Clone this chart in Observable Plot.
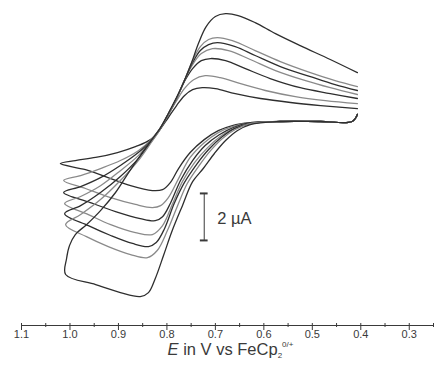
<!DOCTYPE html>
<html>
<head>
<meta charset="utf-8">
<script src="https://cdn.jsdelivr.net/npm/d3@7"></script>
<script src="https://cdn.jsdelivr.net/npm/@observablehq/plot@0.6"></script>
<style>
  body { margin: 0; background: #fff; font-family: "Liberation Sans", Arial, sans-serif; }
  #wrap { position: relative; width: 437px; height: 382px; }
  #xlabel {
    position: absolute; left: 0; top: 341px; width: 437px; box-sizing: border-box;
    padding-left: 24px; text-align: center; font-size: 16.5px; line-height: 17px; color: #3a3a3a;
  }
  #xlabel sub, #xlabel sup { font-size: 8px; line-height: 0; position: relative; vertical-align: baseline; }
  #xlabel sub { top: 3px; }
  #xlabel sup { top: -8px; }
</style>
</head>
<body>
<div id="wrap">
  <div id="chart"></div>
  <div id="xlabel"><i>E</i> in V vs FeCp<sub>2</sub><sup>0/+</sup></div>
</div>
<script>
// Cyclic voltammograms: [E in V, current in µA], forward scan from 0.41 V to the
// switching potential near 1.01 V, then the return scan back to 0.41 V.
const cv1 = [[0.407,0.26],[0.418,-0.04],[0.483,-0.04],[0.566,-0.04],[0.628,-0.09],[0.665,-0.21],[0.694,-0.43],[0.723,-0.81],[0.752,-1.36],[0.776,-2.04],[0.793,-2.64],[0.809,-2.94],[0.830,-2.98],[0.875,-2.77],[0.916,-2.47],[0.968,-2.09],[1.020,-1.83],
  [0.989,-1.70],[0.947,-1.57],[0.902,-1.36],[0.865,-1.11],[0.834,-0.81],[0.813,-0.34],[0.797,0.13],[0.780,0.64],[0.764,1.06],[0.747,1.32],[0.727,1.40],[0.700,1.36],[0.659,1.15],[0.607,0.94],[0.545,0.77],[0.483,0.64],[0.407,0.51]];
const cv2 = [[0.407,0.26],[0.418,-0.04],[0.483,-0.04],[0.566,-0.04],[0.628,-0.09],[0.665,-0.26],[0.694,-0.51],[0.723,-0.94],[0.752,-1.57],[0.776,-2.47],[0.797,-3.28],[0.813,-3.62],[0.830,-3.70],[0.865,-3.57],[0.916,-3.28],[0.968,-2.89],[1.013,-2.55],
  [0.978,-2.34],[0.937,-2.04],[0.896,-1.70],[0.859,-1.28],[0.834,-0.85],[0.813,-0.30],[0.797,0.26],[0.780,0.85],[0.764,1.36],[0.745,1.74],[0.721,1.91],[0.690,1.83],[0.648,1.57],[0.597,1.28],[0.535,1.02],[0.473,0.85],[0.407,0.72]];
const cv3 = [[0.407,0.26],[0.418,-0.04],[0.483,-0.04],[0.566,-0.04],[0.628,-0.09],[0.663,-0.30],[0.692,-0.60],[0.721,-1.06],[0.747,-1.70],[0.772,-2.55],[0.793,-3.53],[0.809,-4.09],[0.824,-4.26],[0.855,-4.17],[0.906,-3.87],[0.958,-3.49],[1.013,-3.06],
  [0.978,-2.81],[0.937,-2.43],[0.896,-1.91],[0.859,-1.36],[0.834,-0.89],[0.813,-0.30],[0.797,0.30],[0.780,0.98],[0.764,1.66],[0.747,2.21],[0.729,2.55],[0.710,2.64],[0.679,2.55],[0.638,2.21],[0.587,1.79],[0.525,1.40],[0.463,1.15],[0.407,0.94]];
const cv4 = [[0.407,0.26],[0.418,-0.04],[0.483,-0.04],[0.566,-0.04],[0.628,-0.13],[0.663,-0.34],[0.690,-0.68],[0.716,-1.15],[0.743,-1.79],[0.768,-2.60],[0.789,-3.57],[0.809,-4.47],[0.830,-4.85],[0.865,-4.77],[0.916,-4.43],[0.962,-4.00],[1.011,-3.53],
  [0.978,-3.23],[0.937,-2.77],[0.896,-2.13],[0.859,-1.49],[0.834,-0.89],[0.813,-0.30],[0.797,0.26],[0.780,0.94],[0.764,1.70],[0.747,2.38],[0.729,2.85],[0.706,3.06],[0.673,2.98],[0.628,2.60],[0.576,2.13],[0.514,1.70],[0.463,1.40],[0.407,1.11]];
const cv5 = [[0.407,0.26],[0.418,-0.04],[0.483,-0.04],[0.566,-0.04],[0.628,-0.13],[0.661,-0.34],[0.688,-0.72],[0.714,-1.23],[0.739,-1.87],[0.764,-2.64],[0.785,-3.53],[0.805,-4.60],[0.822,-5.19],[0.838,-5.36],[0.871,-5.23],[0.916,-4.89],[0.962,-4.47],[1.011,-3.96],
  [0.978,-3.62],[0.937,-3.06],[0.896,-2.38],[0.859,-1.62],[0.834,-0.94],[0.813,-0.34],[0.797,0.26],[0.780,0.94],[0.764,1.70],[0.747,2.47],[0.731,2.98],[0.714,3.23],[0.696,3.32],[0.659,3.15],[0.618,2.77],[0.566,2.30],[0.504,1.87],[0.453,1.53],[0.407,1.28]];
const cv6 = [[0.407,0.26],[0.418,-0.04],[0.483,-0.04],[0.566,-0.04],[0.628,-0.13],[0.659,-0.38],[0.686,-0.77],[0.710,-1.28],[0.735,-1.96],[0.758,-2.68],[0.778,-3.62],[0.799,-4.68],[0.820,-5.53],[0.840,-5.83],[0.875,-5.70],[0.921,-5.36],[0.966,-4.94],[1.009,-4.43],
  [0.978,-4.00],[0.937,-3.36],[0.896,-2.55],[0.859,-1.70],[0.834,-0.98],[0.813,-0.34],[0.797,0.26],[0.780,0.94],[0.764,1.70],[0.747,2.55],[0.731,3.15],[0.714,3.45],[0.696,3.53],[0.665,3.40],[0.618,2.98],[0.566,2.51],[0.504,2.04],[0.453,1.70],[0.407,1.45]];
const cv7 = [[0.407,0.26],[0.418,-0.04],[0.483,-0.04],[0.566,-0.04],[0.628,-0.17],[0.655,-0.43],[0.679,-0.85],[0.702,-1.40],[0.725,-2.04],[0.747,-2.60],[0.768,-3.62],[0.789,-4.68],[0.807,-5.74],[0.824,-6.72],[0.838,-7.32],[0.855,-7.49],[0.896,-7.32],[0.947,-6.98],[1.009,-6.55],
  [1.007,-5.87],[1.001,-5.32],[0.989,-4.85],[0.966,-4.43],[0.937,-3.83],[0.906,-3.06],[0.879,-2.21],[0.855,-1.49],[0.834,-0.89],[0.813,-0.30],[0.797,0.30],[0.780,0.98],[0.764,1.70],[0.749,2.47],[0.735,3.28],[0.719,4.00],[0.700,4.43],[0.679,4.55],[0.653,4.47],[0.618,4.17],[0.576,3.70],[0.525,3.19],[0.463,2.60],[0.407,2.04]];

const voltammograms = [cv1, cv2, cv3, cv4, cv5, cv6, cv7];
const tones = ["#2e2e2e", "#8a8a8a", "#2e2e2e", "#8a8a8a", "#2e2e2e", "#8a8a8a", "#2e2e2e"];

// Potential axis ticks (V)
const majorTicks = [1.1, 1.0, 0.9, 0.8, 0.7, 0.6, 0.5, 0.4, 0.3];
const minorTicks = [1.05, 0.95, 0.85, 0.75, 0.65, 0.55, 0.45, 0.35, 0.25];

// Current scale bar: 2 µA
const barE = 0.723;
const barTop = -3.1;
const barSpan = 2;
const barLabel = "2 µA";

const ink = "#3a3a3a";

const chart = Plot.plot({
  width: 437,
  height: 345,
  marginLeft: 21,
  marginRight: 4,
  marginTop: 0,
  marginBottom: 20,
  style: { fontFamily: '"Liberation Sans", Arial, sans-serif', color: ink, background: "#fff", overflow: "visible" },
  x: { domain: [1.1, 0.25], label: null },
  y: { domain: [-8.72, 5.11], axis: null },
  marks: [
    Plot.frame({ anchor: "bottom", stroke: ink }),
    Plot.axisX(minorTicks, { tickSize: 4, dy: -2, tickFormat: () => "", label: null }),
    Plot.axisX(majorTicks, { tickSize: 7, dy: -2, tickPadding: 0, tickFormat: d3.format(".1f"), fontSize: 11, label: null }),
    ...voltammograms.map((cv, i) =>
      Plot.line(cv, { x: d => d[0], y: d => d[1], stroke: tones[i], strokeWidth: 1.3, curve: "catmull-rom" })
    ),
    Plot.ruleX([barE], { y1: barTop, y2: barTop - barSpan, stroke: ink, strokeWidth: 1 }),
    Plot.ruleY([barTop, barTop - barSpan], { x1: barE + 0.008, x2: barE - 0.008, stroke: ink, strokeWidth: 2 }),
    Plot.text([barLabel], { x: barE - 0.027, y: barTop - barSpan / 2, text: d => d, textAnchor: "start", fontSize: 16.5, fill: ink, dy: 2 })
  ]
});

document.getElementById("chart").append(chart);
</script>
</body>
</html>
